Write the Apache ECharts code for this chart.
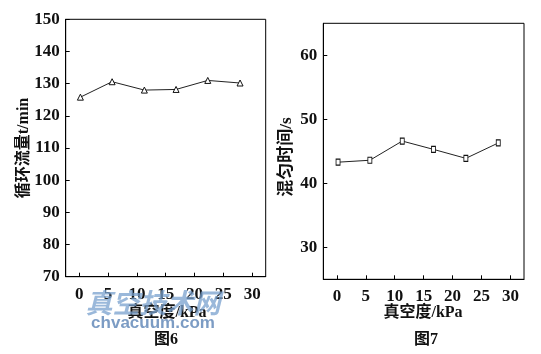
<!DOCTYPE html>
<html><head><meta charset="utf-8">
<script src="https://cdn.jsdelivr.net/npm/echarts@6/dist/echarts.min.js"></script>
<style>html,body{margin:0;padding:0;background:#fff}#c{width:541px;height:354px}</style>
</head><body><div id="c"></div>
<script>
const vacuum = [0.2, 5.7, 11.3, 16.8, 22.3, 27.9];
const flowRate = [125.8, 130.6, 128.0, 128.2, 131.0, 130.2];
const vacuum7 = [0.2, 5.7, 11.3, 16.7, 22.3, 27.9];
const mixTime = [43.3, 43.6, 46.6, 45.3, 43.9, 46.3];
const xTicks = [0, 5, 10, 15, 20, 25, 30];
const yTicks6 = [70, 80, 90, 100, 110, 120, 130, 140, 150];
const yTicks7 = [30, 40, 50, 60];
const xName = '真空度/kPa';
const yName6 = '循环流量t/min';
const yName7 = '混匀时间/s';
const title6 = '图6', title7 = '图7';

const serif = '"Liberation Serif","Noto Sans CJK SC",serif';
const tickFont = {fontFamily: serif, fontWeight: 'bold', fontSize: 17, color: '#111'};

function xAxisCfg(gi) {
  return {
    type: 'value', gridIndex: gi, min: -2.35, max: 32.35,
    axisLine: {show: true, onZero: false, lineStyle: {color: '#000', width: 1}},
    axisTick: {show: true, inside: true, length: 4, customValues: xTicks, lineStyle: {color: '#000'}},
    axisLabel: Object.assign({customValues: xTicks, margin: 9}, tickFont),
    splitLine: {show: false}
  };
}
function yAxisCfg(gi, min, max, ticks) {
  return {
    type: 'value', gridIndex: gi, min: min, max: max,
    axisLine: {show: true, onZero: false, lineStyle: {color: '#000', width: 1}},
    axisTick: {show: true, inside: true, length: 4, customValues: ticks, lineStyle: {color: '#000'}},
    axisLabel: Object.assign({customValues: ticks, margin: 6}, tickFont),
    splitLine: {show: false}
  };
}

const chart = echarts.init(document.getElementById('c'), null, {renderer: 'canvas'});
chart.setOption({
  animation: false,
  backgroundColor: '#fff',
  grid: [
    {left: 65.7, top: 19.3, width: 200, height: 257.4, show: true, borderColor: '#000', borderWidth: 1, backgroundColor: 'transparent'},
    {left: 323.3, top: 23.3, width: 200.7, height: 256, show: true, borderColor: '#000', borderWidth: 1, backgroundColor: 'transparent'}
  ],
  xAxis: [xAxisCfg(0), xAxisCfg(1)],
  yAxis: [yAxisCfg(0, 70, 150, yTicks6), yAxisCfg(1, 25, 65, yTicks7)],
  series: [
    {type: 'line', xAxisIndex: 0, yAxisIndex: 0,
     data: vacuum.map((x, i) => [x, flowRate[i]]),
     symbol: 'triangle', symbolSize: 6, showAllSymbol: true,
     lineStyle: {color: '#222', width: 1},
     itemStyle: {color: '#fff', borderColor: '#111', borderWidth: 1}},
    {type: 'line', xAxisIndex: 1, yAxisIndex: 1,
     data: vacuum7.map((x, i) => [x, mixTime[i]]),
     symbol: 'rect', symbolSize: [4, 6], showAllSymbol: true,
     lineStyle: {color: '#222', width: 1},
     itemStyle: {color: '#fff', borderColor: '#111', borderWidth: 1}}
  ],
  graphic: [
    {type: 'text', x: 24, y: 148, rotation: Math.PI / 2,
     style: {text: yName6, fontFamily: serif, fontWeight: 'bold', fontSize: 16, fill: '#111', align: 'center', verticalAlign: 'middle'}},
    {type: 'text', x: 287, y: 157, rotation: Math.PI / 2,
     style: {text: yName7, fontFamily: serif, fontWeight: 'bold', fontSize: 17, fill: '#111', align: 'center', verticalAlign: 'middle'}},
    {type: 'text', x: 167, y: 313,
     style: {text: xName, fontFamily: serif, fontWeight: 'bold', fontSize: 16, fill: '#111', align: 'center', verticalAlign: 'middle'}},
    {type: 'text', x: 423, y: 313,
     style: {text: xName, fontFamily: serif, fontWeight: 'bold', fontSize: 16, fill: '#111', align: 'center', verticalAlign: 'middle'}},
    {type: 'text', x: 166, y: 340,
     style: {text: title6, fontFamily: serif, fontWeight: 'bold', fontSize: 16, fill: '#111', align: 'center', verticalAlign: 'middle'}},
    {type: 'text', x: 426, y: 340,
     style: {text: title7, fontFamily: serif, fontWeight: 'bold', fontSize: 16, fill: '#111', align: 'center', verticalAlign: 'middle'}},
    {type: 'text', x: 153, y: 303, z: 100,
     style: {text: '真空技术网', fontFamily: '"Noto Sans CJK SC",sans-serif', fontWeight: 'bold', fontSize: 27, fill: 'rgba(120,160,205,0.75)', align: 'center', verticalAlign: 'middle', fontStyle: 'italic'}},
    {type: 'text', x: 153, y: 323, z: 100,
     style: {text: 'chvacuum.com', fontFamily: '"Liberation Sans",sans-serif', fontWeight: 'bold', fontSize: 17, fill: 'rgba(110,145,190,0.9)', align: 'center', verticalAlign: 'middle'}}
  ]
});
</script>
</body></html>
